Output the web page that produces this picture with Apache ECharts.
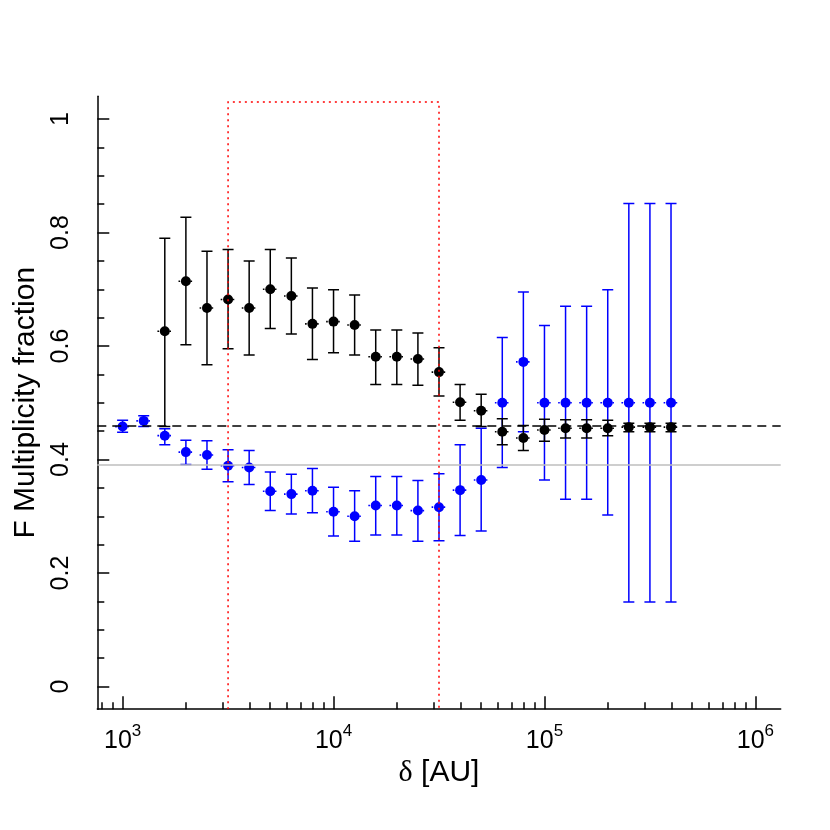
<!DOCTYPE html>
<html><head><meta charset="utf-8">
<script src="https://cdn.jsdelivr.net/npm/echarts@6/dist/echarts.min.js"></script>
<style>html,body{margin:0;padding:0;background:#fff}#c{width:830px;height:830px}</style>
</head><body><div id="c"></div>
<script>
// log10 of separation delta [AU]
const logDelta = [3.0,3.1,3.2,3.3,3.4,3.5,3.6,3.7,3.8,3.9,4.0,4.1,4.2,4.3,4.4,4.5,4.6,4.7,4.8,4.9,5.0,5.1,5.2,5.3,5.4,5.5,5.6];
// blue series
const blueF  = [0.458,0.468,0.442,0.413,0.408,0.389,0.386,0.344,0.339,0.345,0.308,0.300,0.319,0.319,0.310,0.316,0.346,0.364,0.500,0.572,0.500,0.500,0.500,0.500,0.500,0.500,0.500];
const blueLo = [0.448,0.458,0.426,0.391,0.383,0.361,0.356,0.310,0.304,0.306,0.265,0.256,0.267,0.267,0.256,0.257,0.266,0.274,0.386,0.449,0.364,0.330,0.330,0.302,0.149,0.149,0.149];
const blueHi = [0.469,0.477,0.454,0.434,0.433,0.417,0.416,0.378,0.374,0.384,0.351,0.345,0.370,0.370,0.363,0.375,0.426,0.455,0.615,0.695,0.636,0.670,0.670,0.699,0.851,0.851,0.851];
// black series
const blackF  = [null,null,0.626,0.714,0.667,0.682,0.667,0.700,0.688,0.639,0.643,0.637,0.581,0.581,0.577,0.554,0.501,0.486,0.449,0.438,0.452,0.455,0.455,0.455,0.457,0.457,0.457];
const blackLo = [null,null,0.458,0.602,0.567,0.595,0.584,0.631,0.621,0.576,0.588,0.584,0.532,0.532,0.531,0.512,0.469,0.458,0.426,0.416,0.432,0.438,0.438,0.442,0.449,0.449,0.449];
const blackHi = [null,null,0.790,0.827,0.767,0.770,0.750,0.770,0.755,0.702,0.699,0.690,0.628,0.628,0.623,0.597,0.532,0.515,0.472,0.460,0.471,0.470,0.470,0.469,0.464,0.464,0.464];
// reference levels
const dashedLevel = 0.458;
const greyLevel = 0.389;
// highlighted range (log10 delta) and its top
const boxX = [3.5, 4.5];
const boxTop = 1.03;
// axis ticks
const xMajor = [3,4,5,6];
const xMinor = [];
[2,3,4,5].forEach(d => { for (let k = 2; k <= 9; k++) xMinor.push(d + Math.log10(k)); });
const yMajor = [0,0.2,0.4,0.6,0.8,1];
const yMinor = [0.05,0.1,0.15,0.25,0.3,0.35,0.45,0.5,0.55,0.65,0.7,0.75,0.85,0.9,0.95];

const XMIN = 2.88, XMAX = 6.12, YMIN = -0.04, YMAX = 1.04;
const FONT = "'Liberation Sans', Arial, Helvetica, sans-serif";

function errData(F, lo, hi) {
  const out = [];
  logDelta.forEach((x, i) => { if (F[i] != null) out.push([x, lo[i], hi[i], F[i]]); });
  return out;
}
function ptData(F) {
  const out = [];
  logDelta.forEach((x, i) => { if (F[i] != null) out.push([x, F[i]]); });
  return out;
}
function errRender(color) {
  return function (params, api) {
    const x = api.value(0), lo = api.value(1), hi = api.value(2), f = api.value(3);
    const pLo = api.coord([x, lo]), pHi = api.coord([x, hi]);
    const pL = api.coord([x - 0.035, f]), pR = api.coord([x + 0.035, f]);
    const hw = 5.5;
    const st = { stroke: color, lineWidth: 1.5, fill: null };
    return { type: 'group', children: [
      { type: 'line', shape: { x1: pL[0], y1: pL[1], x2: pR[0], y2: pR[1] }, style: { stroke: color, lineWidth: 1.6, lineDash: [1.6, 2.4] } },
      { type: 'line', shape: { x1: pLo[0], y1: pLo[1], x2: pHi[0], y2: pHi[1] }, style: st },
      { type: 'line', shape: { x1: pLo[0] - hw, y1: pLo[1], x2: pLo[0] + hw, y2: pLo[1] }, style: st },
      { type: 'line', shape: { x1: pHi[0] - hw, y1: pHi[1], x2: pHi[0] + hw, y2: pHi[1] }, style: st }
    ]};
  };
}

const chart = echarts.init(document.getElementById('c'), null, { renderer: 'canvas' });
const axisLineStyle = { color: '#000', width: 1.5 };
chart.setOption({
  animation: false,
  backgroundColor: '#fff',
  textStyle: { fontFamily: FONT },
  grid: { left: 97.3, right: 49.3, top: 96.3, bottom: 120.8, containLabel: false },
  xAxis: [
    {
      type: 'value', min: XMIN, max: XMAX, position: 'bottom',
      axisLine: { show: true, onZero: false, lineStyle: axisLineStyle },
      axisTick: { show: true, inside: true, length: 13, customValues: xMajor, lineStyle: axisLineStyle },
      axisLabel: {
        show: true, customValues: xMajor, margin: 14, color: '#000',
        formatter: v => '{b|10}{s|' + Math.round(v) + '}',
        rich: {
          b: { fontSize: 25, lineHeight: 30, verticalAlign: 'bottom', fontFamily: FONT, color: '#000' },
          s: { fontSize: 17, lineHeight: 17, verticalAlign: 'top', fontFamily: FONT, color: '#000' }
        }
      },
      splitLine: { show: false },
      name: '{d|δ} [AU]', nameLocation: 'middle', nameGap: 36,
      nameTextStyle: { fontSize: 30, color: '#000', fontFamily: FONT,
        rich: { d: { fontSize: 30, fontFamily: "'Liberation Serif', 'DejaVu Serif', serif", color: '#000' } } }
    },
    {
      type: 'value', min: XMIN, max: XMAX, position: 'bottom',
      axisLine: { show: false, onZero: false },
      axisTick: { show: true, inside: true, length: 7, customValues: xMinor, lineStyle: axisLineStyle },
      axisLabel: { show: false },
      splitLine: { show: false }
    }
  ],
  yAxis: [
    {
      type: 'value', min: YMIN, max: YMAX, position: 'left',
      axisLine: { show: true, onZero: false, lineStyle: axisLineStyle },
      axisTick: { show: true, inside: true, length: 12, customValues: yMajor, lineStyle: axisLineStyle },
      axisLabel: {
        show: true, customValues: yMajor, rotate: 90, margin: 24, fontSize: 25, color: '#000', fontFamily: FONT,
        formatter: v => String(Math.round(v * 10) / 10)
      },
      splitLine: { show: false },
      name: 'F Multiplicity fraction', nameLocation: 'middle', nameRotate: 90, nameGap: 48,
      nameTextStyle: { fontSize: 30, color: '#000', fontFamily: FONT }
    },
    {
      type: 'value', min: YMIN, max: YMAX, position: 'left',
      axisLine: { show: false, onZero: false },
      axisTick: { show: true, inside: true, length: 7, customValues: yMinor, lineStyle: axisLineStyle },
      axisLabel: { show: false },
      splitLine: { show: false }
    }
  ],
  series: [
    { type: 'custom', name: 'blueErr', xAxisIndex: 0, yAxisIndex: 0, renderItem: errRender('#0000ff'),
      data: errData(blueF, blueLo, blueHi), encode: { x: 0, y: [1, 2] }, clip: true, z: 2 },
    { type: 'scatter', name: 'blue', xAxisIndex: 0, yAxisIndex: 0, data: ptData(blueF),
      symbol: 'circle', symbolSize: 10, itemStyle: { color: '#0000ff', opacity: 1 }, z: 3 },
    { type: 'custom', name: 'blackErr', xAxisIndex: 0, yAxisIndex: 0, renderItem: errRender('#000000'),
      data: errData(blackF, blackLo, blackHi), encode: { x: 0, y: [1, 2] }, clip: true, z: 4 },
    { type: 'scatter', name: 'black', xAxisIndex: 0, yAxisIndex: 0, data: ptData(blackF),
      symbol: 'circle', symbolSize: 10, itemStyle: { color: '#000000', opacity: 1 }, z: 5,
      markLine: {
        silent: true, symbol: 'none', label: { show: false },
        data: [
          { yAxis: greyLevel, lineStyle: { color: '#bebebe', type: 'solid', width: 1.5 } },
          { yAxis: dashedLevel, lineStyle: { color: '#000', type: [9, 6], width: 1.5 } }
        ]
      }
    },
    { type: 'custom', name: 'box', xAxisIndex: 0, yAxisIndex: 0, clip: true, z: 6,
      data: [[boxX[0], boxX[1], boxTop]],
      renderItem: function (params, api) {
        const a = api.coord([api.value(0), YMIN]);
        const b = api.coord([api.value(0), api.value(2)]);
        const c = api.coord([api.value(1), api.value(2)]);
        const d = api.coord([api.value(1), YMIN]);
        return { type: 'polyline', shape: { points: [a, b, c, d] },
          style: { stroke: '#ff0000', lineWidth: 1.5, lineDash: [2, 4], fill: null } };
      }
    }
  ]
});
</script>
</body></html>
